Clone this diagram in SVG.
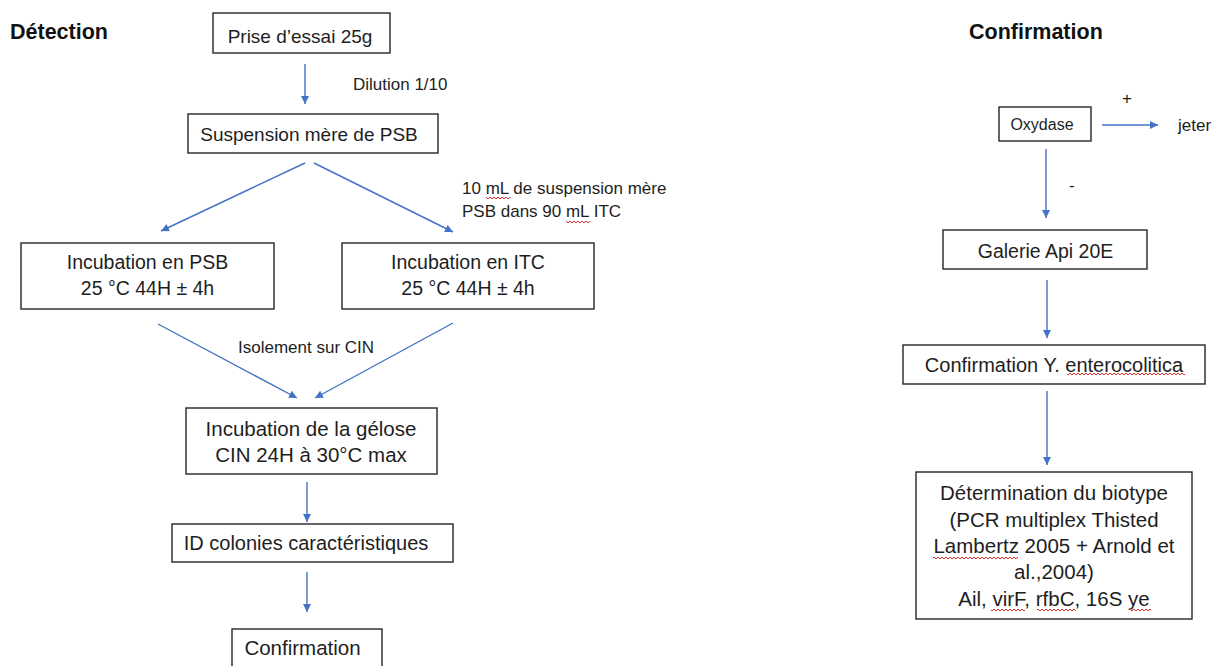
<svg xmlns="http://www.w3.org/2000/svg" width="1217" height="666" viewBox="0 0 1217 666">
<style>
  .box { fill: #ffffff; stroke: #262626; stroke-width: 1.4; }
  .t { font-family: "Liberation Sans", Arial, sans-serif; fill: #1e1e1e; text-anchor: middle; }
  .lbl { font-family: "Liberation Sans", Arial, sans-serif; fill: #1e1e1e; font-size: 17px; }
  .head { font-family: "Liberation Sans", Arial, sans-serif; fill: #111111; font-weight: bold; font-size: 21.5px; }
  .conn { stroke: #4472C4; stroke-width: 1.4; fill: none; marker-end: url(#arr); }
  .sq { fill: url(#squig); }
</style>
<defs>
  <marker id="arr" markerUnits="userSpaceOnUse" markerWidth="10" markerHeight="10" refX="8" refY="4" orient="auto">
    <path d="M0,0 L8,4 L0,8 z" fill="#4472C4"/>
  </marker>
  <pattern id="squig" patternUnits="userSpaceOnUse" width="4" height="4">
    <path d="M0,3 L2,1 L4,3" stroke="#e0302a" stroke-width="1" fill="none"/>
  </pattern>
</defs>
<rect width="1217" height="666" fill="#ffffff"/>

<text class="head" x="10" y="39">Détection</text>
<text class="head" x="969" y="39">Confirmation</text>

<g id="connectors">
  <line class="conn" x1="305" y1="64" x2="305" y2="104"/>
  <line class="conn" x1="305" y1="163" x2="161" y2="231"/>
  <line class="conn" x1="314" y1="163" x2="453" y2="232"/>
  <line class="conn" x1="158" y1="324" x2="297" y2="398"/>
  <line class="conn" x1="453" y1="323" x2="315" y2="398"/>
  <line class="conn" x1="307" y1="482" x2="307" y2="522"/>
  <line class="conn" x1="307" y1="572" x2="307" y2="612"/>
  <line class="conn" x1="1102" y1="125" x2="1158" y2="125"/>
  <line class="conn" x1="1046" y1="149" x2="1046" y2="218"/>
  <line class="conn" x1="1047" y1="280" x2="1047" y2="338"/>
  <line class="conn" x1="1047" y1="391" x2="1047" y2="465"/>
</g>

<g id="labels">
  <text class="lbl" x="353" y="90">Dilution 1/10</text>
  <text class="lbl" x="462" y="194">10 mL de suspension mère</text>
  <text class="lbl" x="462" y="217">PSB dans 90 mL ITC</text>
  <rect class="sq" x="486" y="196" width="24" height="4"/>
  <rect class="sq" x="566" y="220" width="24" height="4"/>
  <text class="lbl" x="238" y="353">Isolement sur CIN</text>
  <text class="lbl" x="1122" y="104">+</text>
  <text class="lbl" x="1178" y="131">jeter</text>
  <text class="lbl" x="1069" y="191">-</text>
</g>

<g id="n-prise">
  <rect class="box" x="213" y="13" width="177" height="40"/>
  <text class="t" x="300" y="43" font-size="19">Prise d’essai 25g</text>
</g>
<g id="n-suspension">
  <rect class="box" x="188" y="114" width="250" height="39"/>
  <text class="t" x="309" y="141" font-size="19">Suspension mère de PSB</text>
</g>
<g id="n-psb">
  <rect class="box" x="21" y="243" width="253" height="66"/>
  <text class="t" x="147.5" y="269" font-size="19.5">Incubation en PSB</text>
  <text class="t" x="147.5" y="295" font-size="19.5">25 °C 44H ± 4h</text>
</g>
<g id="n-itc">
  <rect class="box" x="342" y="243" width="252" height="66"/>
  <text class="t" x="468" y="269" font-size="19.5">Incubation en ITC</text>
  <text class="t" x="468" y="295" font-size="19.5">25 °C 44H ± 4h</text>
</g>
<g id="n-gelose">
  <rect class="box" x="186" y="408" width="251" height="66"/>
  <text class="t" x="311" y="436" font-size="20.5">Incubation de la gélose</text>
  <text class="t" x="311" y="462" font-size="20.5">CIN 24H à 30°C max</text>
</g>
<g id="n-id">
  <rect class="box" x="172" y="524" width="281" height="38"/>
  <text class="t" x="306" y="550" font-size="20">ID colonies caractéristiques</text>
</g>
<g id="n-confirmation">
  <rect class="box" x="232" y="629" width="150" height="45"/>
  <text class="t" x="302.5" y="655" font-size="20.5">Confirmation</text>
</g>

<g id="n-oxydase">
  <rect class="box" x="999" y="107" width="92" height="34"/>
  <text class="t" x="1042" y="130" font-size="16">Oxydase</text>
</g>
<g id="n-api">
  <rect class="box" x="943" y="230" width="204" height="39"/>
  <text class="t" x="1045.5" y="258" font-size="19.5">Galerie Api 20E</text>
</g>
<g id="n-confy">
  <rect class="box" x="903" y="345" width="302" height="39"/>
  <text class="t" x="1054" y="372" font-size="20">Confirmation Y. enterocolitica</text>
  <rect class="sq" x="1067" y="372" width="118" height="4"/>
</g>
<g id="n-biotype">
  <rect class="box" x="916" y="472" width="276" height="147"/>
  <text class="t" x="1054" y="500" font-size="20.5">Détermination du biotype</text>
  <text class="t" x="1054" y="527" font-size="20.5">(PCR multiplex Thisted</text>
  <text class="t" x="1054" y="553" font-size="20.5">Lambertz 2005 + Arnold et</text>
  <text class="t" x="1054" y="579" font-size="20.5">al.,2004)</text>
  <text class="t" x="1054" y="606" font-size="20.5">Ail, virF, rfbC, 16S ye</text>
  <rect class="sq" x="933" y="556" width="85" height="4"/>
  <rect class="sq" x="991" y="608" width="34" height="4"/>
  <rect class="sq" x="1037" y="608" width="39" height="4"/>
  <rect class="sq" x="1129" y="608" width="22" height="4"/>
</g>
</svg>
